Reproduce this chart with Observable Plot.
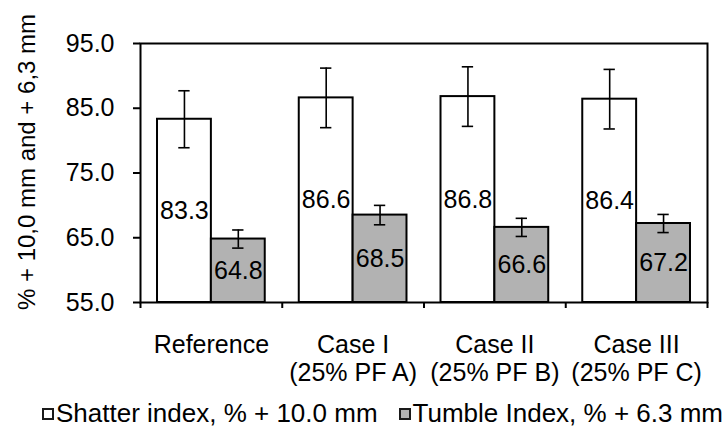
<!DOCTYPE html>
<html>
<head>
<meta charset="utf-8">
<script src="https://cdn.jsdelivr.net/npm/d3@7"></script>
<script src="https://cdn.jsdelivr.net/npm/@observablehq/plot@0.6"></script>
<style>
  html, body { margin: 0; padding: 0; background: #fff; }
  #chart { position: relative; width: 728px; height: 427px; font-family: "Liberation Sans", Arial, sans-serif; color: #000; overflow: hidden; }
  #chart svg { display: block; }
  .legend { position: absolute; left: 42px; top: 401px; height: 25px; display: flex; align-items: center; font-size: 26px; white-space: pre; line-height: 25px; }
  .legend .item { display: flex; align-items: center; }
  .legend .item + .item { margin-left: 21px; }
  .swatch { width: 12px; height: 12px; box-sizing: border-box; border: 2px solid #1a1a1a; margin-right: 2px; }
</style>
</head>
<body>
<div id="chart"></div>
<script>
// Categories (two-line tick labels) and series
const categories = ["Reference", "Case I\n(25% PF A)", "Case II\n(25% PF B)", "Case III\n(25% PF C)"];
const seriesNames = ["Shatter index, % + 10.0 mm", "Tumble Index, % + 6.3 mm"];
const seriesColors = ["#ffffff", "#b2b2b2"];

// Shatter index (% + 10.0 mm) with its error
const shatter = [83.3, 86.6, 86.8, 86.4];
const shatterErr = [4.4, 4.6, 4.6, 4.6];

// Tumble index (% + 6.3 mm) with its error
const tumble = [64.8, 68.5, 66.6, 67.2];
const tumbleErr = [1.4, 1.5, 1.4, 1.4];

const yTicks = [55, 65, 75, 85, 95];
const yLabel = "% + 10,0 mm and + 6,3 mm";

// Clustered layout inside each category slot (fractions of one slot)
const gapWidth = 0.12;
const barWidth = (1 - 2 * gapWidth) / seriesNames.length;
const capHalf = 0.04;

const values = [shatter, tumble];
const errors = [shatterErr, tumbleErr];
const bars = categories.flatMap((c, i) =>
  seriesNames.map((s, k) => {
    const x1 = i + gapWidth + k * barWidth;
    return {
      category: c, series: s, k,
      x1, x2: x1 + barWidth, xm: x1 + barWidth / 2,
      value: values[k][i], err: errors[k][i]
    };
  })
);

const yMin = yTicks[0];
const yMax = yTicks[yTicks.length - 1];

const chart = Plot.plot({
  width: 728,
  height: 395,
  marginLeft: 140,
  marginRight: 21,
  marginTop: 43,
  marginBottom: 93,
  style: { fontFamily: "Liberation Sans, Arial, sans-serif", fontSize: "25px", color: "#000", background: "#fff", overflow: "visible" },
  x: { domain: [0, categories.length], axis: null },
  y: { domain: [yMin, yMax], axis: null },
  marks: [
    Plot.rectY(bars, {
      x1: "x1", x2: "x2", y1: yMin, y2: "value",
      fill: d => seriesColors[d.k], stroke: "#000", strokeWidth: 2
    }),
    // error bars
    Plot.ruleX(bars, { x: "xm", y1: d => d.value - d.err, y2: d => d.value + d.err, stroke: "#000", strokeWidth: 1.6 }),
    Plot.ruleY(bars, { y: d => d.value + d.err, x1: d => d.xm - capHalf, x2: d => d.xm + capHalf, stroke: "#000", strokeWidth: 1.6 }),
    Plot.ruleY(bars, { y: d => d.value - d.err, x1: d => d.xm - capHalf, x2: d => d.xm + capHalf, stroke: "#000", strokeWidth: 1.6 }),
    // value labels centred in each bar
    Plot.text(bars, { x: "xm", y: d => (yMin + d.value) / 2, text: d => d.value.toFixed(1), fill: "#000", fontSize: 25 }),
    Plot.frame({ stroke: "#000", strokeWidth: 2 }),
    Plot.axisY(yTicks, { tickSize: 7, tickPadding: 19, tickFormat: d => d.toFixed(1), strokeWidth: 2, label: null, fontSize: 25 }),
    Plot.axisX(d3.range(categories.length + 1), { tickSize: 6, tickFormat: () => "", strokeWidth: 2, label: null }),
    // category labels
    Plot.text(categories, {
      x: (d, i) => i + 0.5, text: d => d, frameAnchor: "bottom",
      lineAnchor: "top", dy: 31, lineHeight: 1.11, fontSize: 25, fill: "#000"
    }),
    // y-axis title
    Plot.text([yLabel], {
      text: d => d, frameAnchor: "left", textAnchor: "middle", lineAnchor: "middle",
      rotate: -90, dx: -113, dy: -11, fontSize: 24, fill: "#000"
    })
  ]
});

const root = document.getElementById("chart");
root.appendChild(chart);

const legend = document.createElement("div");
legend.className = "legend";
seriesNames.forEach((s, k) => {
  const item = document.createElement("div");
  item.className = "item";
  const sw = document.createElement("span");
  sw.className = "swatch";
  sw.style.background = seriesColors[k];
  const label = document.createElement("span");
  label.textContent = s;
  item.append(sw, label);
  legend.appendChild(item);
});
root.appendChild(legend);
</script>
</body>
</html>
